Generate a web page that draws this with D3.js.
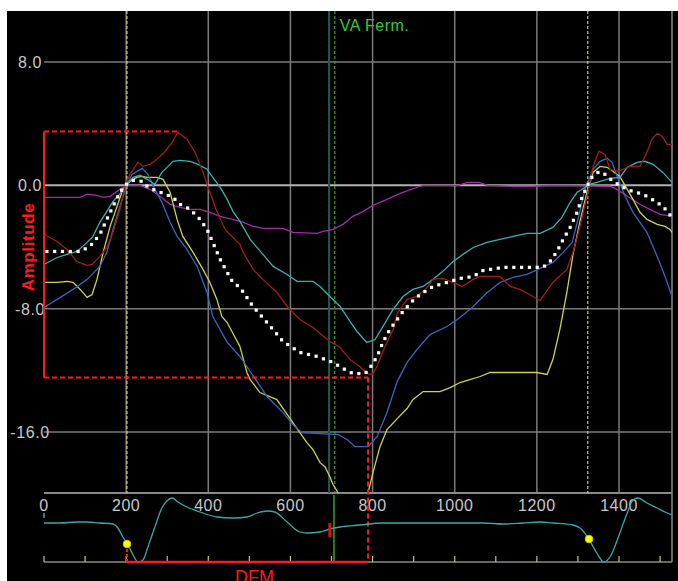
<!DOCTYPE html>
<html>
<head>
<meta charset="utf-8">
<script src="https://cdn.jsdelivr.net/npm/d3@7/dist/d3.min.js"></script>
<style>
  html, body { margin: 0; padding: 0; background: #ffffff; }
  svg { display: block; }
  text { font-family: "Liberation Sans", Arial, sans-serif; }
</style>
</head>
<body>
<div id="chart"></div>
<script>
// ---------------- DATA ----------------
const xTickValues = [0, 200, 400, 600, 800, 1000, 1200, 1400];
const xGridValues = [200, 400, 600, 800, 1000, 1200, 1400];
const yTickValues = [8, 0, -8, -16];
const yTickLabels = ["8.0", "0.0", "-8.0", "-16.0"];
const lowerTickValues = [0,100,200,300,400,500,600,700,800,900,1000,1100,1200,1300,1400,1500];

// average curve (white dotted)
const avgSeries = [[7,-4.29],[88,-4.29],[112,-3.96],[136,-3.18],[153,-2.21],[168,-1.36],[185,-0.45],[200,0.06],[217,0.32],[239,0.26],[251,-0.06],[265,-0.26],[290,-0.52],[314,-0.78],[331,-1.23],[351,-1.49],[363,-1.75],[380,-2.21],[397,-2.86],[411,-3.70],[429,-4.81],[446,-5.65],[460,-6.30],[477,-6.62],[509,-7.86],[543,-8.90],[582,-10.13],[623,-10.84],[665,-11.10],[704,-11.49],[728,-11.88],[752,-12.21],[782,-12.21],[794,-11.82],[811,-11.10],[825,-10.19],[842,-9.35],[860,-8.70],[874,-8.18],[896,-7.53],[916,-7.08],[947,-6.56],[981,-6.30],[1013,-6.04],[1045,-5.91],[1069,-5.52],[1118,-5.32],[1215,-5.32],[1232,-4.94],[1249,-4.29],[1264,-3.51],[1281,-2.73],[1298,-1.75],[1310,-0.78],[1322,-0.06],[1334,0.52],[1349,0.84],[1361,0.84],[1373,0.52],[1390,0.19],[1410,-0.13],[1432,-0.39],[1451,-0.52],[1468,-0.71],[1488,-1.04],[1507,-1.36],[1529,-2.08]];

const redSeries = [[0,-3.18],[32,-3.64],[56,-4.16],[80,-4.94],[105,-5.19],[117,-5.13],[136,-4.61],[153,-4.03],[168,-3.05],[185,-1.56],[197,-0.06],[209,0.71],[229,1.49],[241,1.23],[258,1.36],[275,1.69],[295,2.21],[312,2.79],[326,3.44],[348,2.99],[368,2.14],[387,0.84],[404,-0.45],[421,-1.69],[441,-2.86],[460,-3.38],[477,-3.83],[485,-4.35],[509,-5.45],[533,-6.10],[567,-6.95],[592,-7.86],[623,-8.70],[655,-9.22],[696,-10.13],[721,-10.52],[745,-11.30],[769,-11.75],[786,-12.21],[799,-12.27],[811,-11.75],[825,-10.78],[850,-9.35],[860,-8.30],[884,-7.40],[908,-7.21],[933,-6.62],[947,-6.10],[971,-6.04],[996,-6.30],[1018,-6.56],[1045,-6.10],[1062,-5.91],[1110,-5.91],[1135,-6.56],[1159,-6.75],[1208,-7.47],[1239,-6.30],[1273,-5.45],[1288,-4.35],[1305,-2.66],[1322,-0.71],[1337,1.23],[1351,2.21],[1366,2.01],[1378,1.04],[1395,0.91],[1410,1.04],[1427,1.23],[1451,1.23],[1468,2.14],[1480,2.99],[1493,3.38],[1505,3.18],[1517,2.66],[1532,2.66]];

const cyanSeries = [[0,-5.13],[32,-4.68],[56,-4.48],[80,-4.29],[105,-3.70],[119,-3.31],[136,-2.40],[153,-1.69],[168,-1.04],[190,-0.39],[202,0.06],[217,0.52],[234,0.65],[251,0.39],[270,0.06],[287,0.84],[302,1.23],[314,1.56],[331,1.62],[355,1.56],[375,1.36],[397,1.04],[411,0.52],[429,-0.13],[446,-0.91],[460,-1.69],[477,-2.34],[502,-3.51],[533,-4.48],[558,-5.26],[592,-5.78],[616,-6.23],[655,-6.23],[672,-6.56],[696,-7.21],[721,-7.86],[745,-8.83],[762,-9.48],[786,-10.19],[806,-10.00],[825,-9.16],[850,-8.05],[874,-7.21],[898,-6.75],[923,-6.56],[947,-6.10],[971,-5.58],[996,-4.94],[1020,-4.48],[1045,-4.03],[1079,-3.70],[1110,-3.51],[1142,-3.31],[1176,-3.12],[1208,-3.12],[1239,-2.73],[1261,-2.08],[1281,-1.10],[1298,-0.45],[1329,0.06],[1354,0.26],[1378,0.45],[1402,0.52],[1420,1.17],[1444,1.49],[1463,1.56],[1483,1.36],[1507,0.84],[1529,0.19]];

const blueSeries = [[0,-7.92],[32,-7.40],[71,-6.75],[105,-6.10],[136,-5.26],[153,-4.35],[168,-2.86],[185,-1.36],[200,-0.06],[214,0.71],[239,1.10],[253,0.71],[270,-0.26],[287,-1.10],[307,-2.40],[324,-3.31],[348,-4.16],[373,-5.26],[397,-6.95],[411,-8.51],[446,-10.19],[477,-11.10],[509,-12.34],[543,-13.70],[582,-14.74],[606,-15.52],[628,-16.04],[716,-16.17],[738,-16.49],[757,-16.95],[789,-16.95],[811,-16.30],[835,-14.74],[860,-12.73],[884,-11.49],[908,-10.65],[940,-9.68],[981,-9.16],[1013,-8.57],[1045,-7.86],[1079,-6.95],[1110,-6.30],[1142,-5.97],[1176,-5.78],[1208,-5.39],[1239,-5.00],[1264,-4.35],[1286,-3.70],[1300,-2.21],[1317,-0.26],[1337,1.04],[1354,1.56],[1371,1.75],[1383,1.49],[1398,0.39],[1415,-0.71],[1434,-1.75],[1468,-3.05],[1493,-4.61],[1512,-5.91],[1529,-7.21]];

const yellowSeries = [[0,-6.30],[32,-6.30],[56,-6.23],[71,-6.30],[88,-6.75],[105,-7.27],[117,-7.08],[129,-6.10],[144,-4.35],[161,-2.66],[178,-1.36],[192,-0.26],[209,0.26],[226,0.52],[239,0.58],[251,0.52],[275,0.52],[290,0.39],[307,-0.45],[324,-2.21],[338,-3.31],[363,-4.35],[387,-5.45],[404,-6.30],[421,-7.40],[433,-8.51],[446,-8.90],[477,-10.45],[494,-12.14],[502,-12.60],[526,-13.44],[567,-13.90],[606,-15.39],[640,-16.69],[655,-17.14],[672,-17.99],[684,-18.25],[696,-18.90],[704,-19.42],[716,-19.94],[735,-21.0],[770,-21.0],[789,-19.94],[801,-18.64],[818,-16.95],[835,-15.84],[860,-15.13],[884,-14.48],[898,-13.90],[923,-13.38],[964,-13.38],[989,-13.12],[1013,-12.79],[1037,-12.60],[1062,-12.40],[1086,-12.14],[1200,-12.14],[1225,-12.27],[1239,-11.30],[1256,-9.35],[1273,-6.95],[1288,-4.48],[1305,-2.34],[1322,-0.45],[1337,0.84],[1354,1.23],[1371,1.17],[1385,0.91],[1402,0.58],[1420,-0.26],[1434,-0.91],[1451,-1.75],[1468,-2.21],[1493,-2.53],[1512,-2.66],[1524,-2.86],[1536,-3.31]];

const magentaSeries = [[0,-0.78],[88,-0.78],[105,-0.58],[129,-0.65],[144,-0.78],[161,-0.71],[185,-0.26],[202,0.0],[234,0.0],[258,-0.26],[282,-0.71],[307,-1.23],[331,-1.43],[355,-1.56],[380,-1.56],[404,-1.75],[429,-2.01],[460,-2.21],[485,-2.40],[509,-2.66],[533,-2.79],[582,-2.79],[606,-3.05],[665,-3.12],[679,-2.99],[704,-2.86],[728,-2.53],[752,-2.01],[777,-1.69],[801,-1.30],[835,-0.91],[867,-0.52],[916,-0.06],[923,0.0],[1010,0.0],[1030,0.19],[1060,0.19],[1079,0.0],[1142,-0.06],[1191,-0.06],[1232,0.0],[1378,-0.06],[1395,-0.26],[1420,-0.71],[1451,-1.23],[1475,-1.56],[1500,-1.88],[1529,-2.01]];

// lower panel curve (relative level)
const lowerSeries = [[0,39],[39,39],[80,40],[105,40],[136,39],[168,38],[180,34],[192,25],[205,17],[217,7],[229,0],[241,2],[253,15],[270,35],[287,54],[299,61],[312,64],[326,60],[348,55],[380,50],[421,45],[460,44],[494,45],[519,49],[543,51],[562,50],[592,40],[623,30],[640,29],[672,30],[696,33],[721,35],[769,37],[825,39],[964,39],[1069,39],[1118,38],[1166,39],[1208,40],[1239,39],[1288,37],[1305,34],[1325,24],[1346,9],[1363,0],[1378,5],[1402,29],[1420,49],[1434,62],[1446,64],[1468,59],[1493,54],[1512,50],[1529,47]];
const lowerMarkers = [[202,18],[1327,23]];

// markers / annotations
const cycleStarts = [202, 1324];        // yellow dashed verticals
const vaFermX = 694;                     // solid marker line
const vaFermDashX = 708;                 // dashed green line
const vaFermLowerX = 706;
const redTickX = 696;
const ampMax = 3.5, ampMaxX = 326;
const ampMin = -12.47, ampMinX = 789;
const dfmStart = 202, dfmEnd = 789;

// ---------------- LAYOUT ----------------
const W = 678, H = 581;
const svg = d3.select("#chart").append("svg").attr("width", W).attr("height", H);
svg.append("rect").attr("x", 7).attr("y", 11).attr("width", W - 7).attr("height", H - 11).attr("fill", "#000");

const x = d3.scaleLinear().domain([0, 1529]).range([44, 672]);
const y = d3.scaleLinear().domain([-16, 8]).range([432, 62]);
const plotTop = 11, plotBottom = 493, plotLeft = 44, plotRight = 672;
const yl = d3.scaleLinear().domain([0, 69]).range([562, 493]);

svg.append("clipPath").attr("id", "clip").append("rect")
  .attr("x", plotLeft).attr("y", plotTop).attr("width", plotRight - plotLeft).attr("height", plotBottom - plotTop);

// grid
const grid = svg.append("g");
grid.selectAll(".vg").data(xGridValues).enter().append("line")
  .attr("x1", d => x(d)).attr("x2", d => x(d)).attr("y1", plotTop).attr("y2", plotBottom)
  .attr("stroke", "#7a7a7a").attr("stroke-width", 1.5);
grid.selectAll(".hg").data(yTickValues).enter().append("line")
  .attr("x1", plotLeft).attr("x2", plotRight).attr("y1", d => y(d)).attr("y2", d => y(d))
  .attr("stroke", d => d === 0 ? "#b4b4b4" : "#7a7a7a").attr("stroke-width", d => d === 0 ? 2 : 1.5);
// right border and bottom axis line
grid.append("line").attr("x1", plotRight).attr("x2", plotRight).attr("y1", plotTop).attr("y2", 562)
  .attr("stroke", "#8a8a8a").attr("stroke-width", 1.5);
grid.append("line").attr("x1", plotLeft).attr("x2", plotRight).attr("y1", plotBottom).attr("y2", plotBottom)
  .attr("stroke", "#8a8a8a").attr("stroke-width", 2);

// y labels
svg.selectAll(".yl").data(yTickValues).enter().append("text")
  .attr("x", 30).attr("y", d => y(d) + 6).attr("text-anchor", "middle")
  .attr("fill", "#c8c8c8").attr("font-size", 16).attr("letter-spacing", 0.6)
  .text((d, i) => yTickLabels[i]);

// x labels
svg.selectAll(".xl").data(xTickValues).enter().append("text")
  .attr("x", d => x(d)).attr("y", 511).attr("text-anchor", "middle")
  .attr("fill", "#c8c8c8").attr("font-size", 16).attr("letter-spacing", 0.5)
  .text(d => d);

// vertical marker lines in main plot
const marks = svg.append("g");
marks.selectAll(".cs").data(cycleStarts).enter().append("line")
  .attr("x1", d => x(d)).attr("x2", d => x(d)).attr("y1", plotTop).attr("y2", plotBottom)
  .attr("stroke", "#f4f060").attr("stroke-width", 1).attr("stroke-dasharray", "3,2");
marks.append("line").attr("x1", x(vaFermX)).attr("x2", x(vaFermX)).attr("y1", plotTop).attr("y2", plotBottom)
  .attr("stroke", "#1c5a4e").attr("stroke-width", 2);
marks.append("line").attr("x1", x(vaFermDashX)).attr("x2", x(vaFermDashX)).attr("y1", plotTop).attr("y2", plotBottom)
  .attr("stroke", "#2fa02f").attr("stroke-width", 1.2).attr("stroke-dasharray", "3,2");
svg.append("text").attr("x", x(vaFermDashX) + 5).attr("y", 31)
  .attr("fill", "#33cc33").attr("font-size", 16).attr("letter-spacing", 0.5).text("VA Ferm.");

// series
const line = d3.line().x(d => x(d[0])).y(d => y(d[1]));
const series = svg.append("g").attr("clip-path", "url(#clip)");
const colored = [
  {data: magentaSeries, color: "#a52aa8"},
  {data: yellowSeries, color: "#d2d24c"},
  {data: blueSeries, color: "#3a66c0"},
  {data: cyanSeries, color: "#3ab0b0"},
  {data: redSeries, color: "#a01c1c"}
];
colored.forEach(s => {
  series.append("path").attr("d", line(s.data)).attr("fill", "none")
    .attr("stroke", s.color).attr("stroke-width", 1.3);
});

// red amplitude box
const red = "#ff1a1a";
svg.append("line").attr("x1", x(0)).attr("x2", x(ampMaxX)).attr("y1", y(ampMax)).attr("y2", y(ampMax))
  .attr("stroke", red).attr("stroke-width", 2).attr("stroke-dasharray", "5,3");
svg.append("line").attr("x1", x(0)).attr("x2", x(ampMinX)).attr("y1", y(ampMin)).attr("y2", y(ampMin))
  .attr("stroke", red).attr("stroke-width", 2).attr("stroke-dasharray", "5,3");
svg.append("line").attr("x1", x(0)).attr("x2", x(0)).attr("y1", y(ampMax)).attr("y2", y(ampMin))
  .attr("stroke", red).attr("stroke-width", 2);
svg.append("line").attr("x1", x(ampMinX)).attr("x2", x(ampMinX)).attr("y1", y(ampMin)).attr("y2", yl(0))
  .attr("stroke", red).attr("stroke-width", 2).attr("stroke-dasharray", "5,3");

// average dotted curve as square dots sampled along the path
const avgPath = series.append("path").attr("d", line(avgSeries)).attr("fill", "none").attr("stroke", "none");
const len = avgPath.node().getTotalLength();
const dots = [];
for (let l = 0; l <= len; l += 7.8) dots.push(avgPath.node().getPointAtLength(l));
series.selectAll(".dot").data(dots).enter().append("rect")
  .attr("x", d => d.x - 1.6).attr("y", d => d.y - 1.6).attr("width", 3.2).attr("height", 3.2)
  .attr("fill", "#ffffff");

svg.append("text").attr("transform", "translate(34,247) rotate(-90)").attr("text-anchor", "middle")
  .attr("fill", red).attr("font-size", 17).attr("font-weight", "bold").attr("letter-spacing", 0.6).text("Amplitude");

// ---------------- LOWER PANEL ----------------
const lower = svg.append("g");
lower.append("line").attr("x1", plotLeft).attr("x2", plotRight).attr("y1", yl(0)).attr("y2", yl(0))
  .attr("stroke", "#8a8a8a").attr("stroke-width", 1.5);
lower.append("line").attr("x1", plotLeft).attr("x2", plotLeft).attr("y1", 513).attr("y2", 518)
  .attr("stroke", "#8a8a8a").attr("stroke-width", 1.5);
lower.selectAll(".lt").data(lowerTickValues).enter().append("line")
  .attr("x1", d => x(d)).attr("x2", d => x(d)).attr("y1", yl(0)).attr("y2", yl(0) - 6)
  .attr("stroke", "#c8c864").attr("stroke-width", 1.2);
lower.append("line").attr("x1", x(vaFermLowerX)).attr("x2", x(vaFermLowerX)).attr("y1", plotBottom + 2).attr("y2", yl(0))
  .attr("stroke", "#3c9e28").attr("stroke-width", 1.5);
const lline = d3.line().x(d => x(d[0])).y(d => yl(d[1])).curve(d3.curveMonotoneX);
lower.append("path").attr("d", lline(lowerSeries)).attr("fill", "none")
  .attr("stroke", "#38a8a8").attr("stroke-width", 1.3);
// DFM bracket
lower.append("line").attr("x1", x(dfmStart)).attr("x2", x(dfmEnd)).attr("y1", yl(0)).attr("y2", yl(0))
  .attr("stroke", red).attr("stroke-width", 2.5);
lower.append("line").attr("x1", x(dfmStart)).attr("x2", x(dfmStart)).attr("y1", yl(lowerMarkers[0][1])).attr("y2", yl(0))
  .attr("stroke", red).attr("stroke-width", 2).attr("stroke-dasharray", "3,2");
lower.append("line").attr("x1", x(redTickX)).attr("x2", x(redTickX)).attr("y1", yl(39)).attr("y2", yl(25))
  .attr("stroke", "#e01010").attr("stroke-width", 3);
lower.selectAll(".lm").data(lowerMarkers).enter().append("circle")
  .attr("cx", d => x(d[0])).attr("cy", d => yl(d[1])).attr("r", 3.8)
  .attr("fill", "#ffff00").attr("stroke", "#c8c800").attr("stroke-width", 1);
svg.append("text").attr("x", x((dfmStart + dfmEnd) / 2) + 7).attr("y", 583).attr("text-anchor", "middle")
  .attr("fill", red).attr("font-size", 18).text("DFM");
</script>
</body>
</html>
